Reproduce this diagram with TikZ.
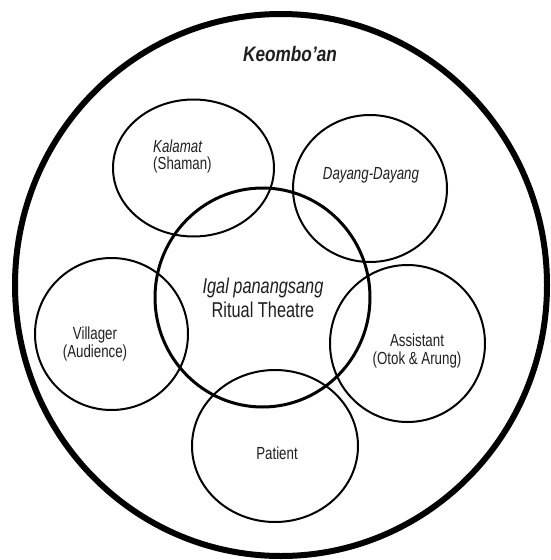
\documentclass[tikz,border=0pt]{standalone}
\usepackage{fontspec}
\setmainfont{Liberation Sans}
% narrow faces for the labels
\newfontfamily\narrowfont[FakeStretch=0.76]{Liberation Sans}
\newfontfamily\titlefont[FakeStretch=0.82]{Liberation Sans}
\usetikzlibrary{shapes.geometric}
\tikzset{
  ring/.style={ellipse, draw, line width=2pt, inner sep=0pt},
  lbl/.style={text=black!88, inner sep=0pt, align=center, font=\narrowfont\fontsize{17.5}{17.5}\selectfont},
}
\begin{document}
\begin{tikzpicture}[x=1pt, y=-1pt]
  \useasboundingbox (0,0) rectangle (550,560);
  % outer community circle
  \node[ring, line width=6pt, minimum width=532pt, minimum height=542pt] (outer) at (281,285) {};
  % surrounding participants
  \node[ring, minimum width=161pt, minimum height=137pt] (kalamat) at (193.5,168) {};
  \node[ring, minimum width=154pt, minimum height=147pt] (dayang) at (370,188.5) {};
  \node[ring, minimum width=153pt, minimum height=152pt] (villager) at (111.5,334) {};
  \node[ring, minimum width=155pt, minimum height=157pt] (assistant) at (407.5,343.5) {};
  \node[ring, minimum width=166pt, minimum height=152pt] (patient) at (275,446) {};
  % central ritual theatre
  \node[ring, line width=3pt, minimum width=215pt, minimum height=219pt] (centre) at (262.5,297.5) {};

  % labels
  \node[lbl, font=\titlefont\fontsize{21}{21}\selectfont\bfseries\itshape] (tkeo) at (290,54) {Keombo’an};
  \node[lbl, align=left, anchor=west] (tkal) at (153,156.5) {\itshape Kalamat\\(Shaman)};
  \node[lbl, font=\narrowfont\fontsize{17.5}{17.5}\selectfont\itshape] (tday) at (371,175) {Dayang-Dayang};
  \node[lbl, font=\narrowfont\fontsize{21.5}{24}\selectfont] (tcen) at (263,298) {\itshape Igal panangsang\\Ritual Theatre};
  \node[lbl] (tvil) at (95,344) {Villager\\(Audience)};
  \node[lbl] (tass) at (417,351) {Assistant\\(Otok \& Arung)};
  \node[lbl] (tpat) at (277,453) {Patient};
\end{tikzpicture}
\end{document}
